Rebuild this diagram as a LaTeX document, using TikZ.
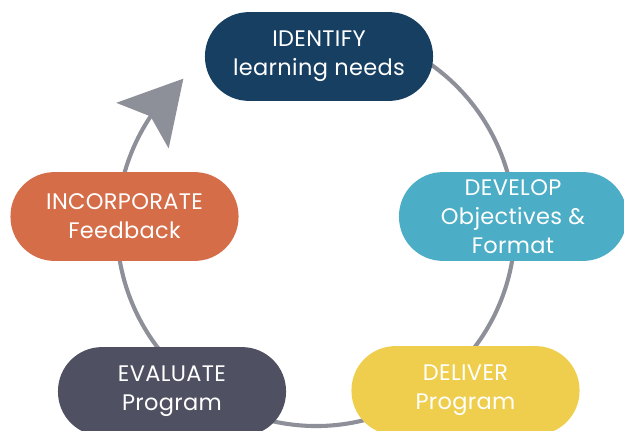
\documentclass[tikz,border=0pt]{standalone}
\usepackage{fontspec}
\setmainfont[LetterSpace=1.5]{Poppins}
\usetikzlibrary{arrows.meta,bending}

\definecolor{identblue}{HTML}{173F62}
\definecolor{developteal}{HTML}{4BADC6}
\definecolor{deliveryellow}{HTML}{EECE4C}
\definecolor{evalslate}{HTML}{4F5162}
\definecolor{incorpcopper}{HTML}{D56D49}
\definecolor{loopgray}{HTML}{8D8F99}

\begin{document}
\begin{tikzpicture}[x=0.025cm, y=0.025cm]
    \tikzset{
      stagenode/.style={rectangle,rounded corners=1.1cm,minimum width=5.7cm,minimum height=2.22cm,inner sep=0pt,text=white,align=center,font=\fontsize{16}{20.5}\selectfont},
      looparrow/.style={draw=loopgray,line width=2.9pt,-{Stealth[length=1.55cm,width=1.72cm,inset=0.3cm]}}
    }
    \useasboundingbox (0,0) rectangle (624,430);
    \coordinate (hub) at (316,203);
    \draw[looparrow] (hub) ++(80:199) arc[start angle=80,end angle=-228.2,radius=199];

    \node[stagenode,fill=identblue](identify) at (319,373.5) {IDENTIFY\\learning needs};
    \node[stagenode,fill=developteal](develop) at (513,213.5) {DEVELOP\\Objectives \&\\Format};
    \node[stagenode,fill=deliveryellow](deliver) at (465.5,39.5) {DELIVER\\Program};
    \node[stagenode,fill=evalslate](evaluate) at (172,38.5) {EVALUATE\\Program};
    \node[stagenode,fill=incorpcopper](incorporate) at (124.5,213.5) {INCORPORATE\\Feedback};
\end{tikzpicture}
\end{document}
